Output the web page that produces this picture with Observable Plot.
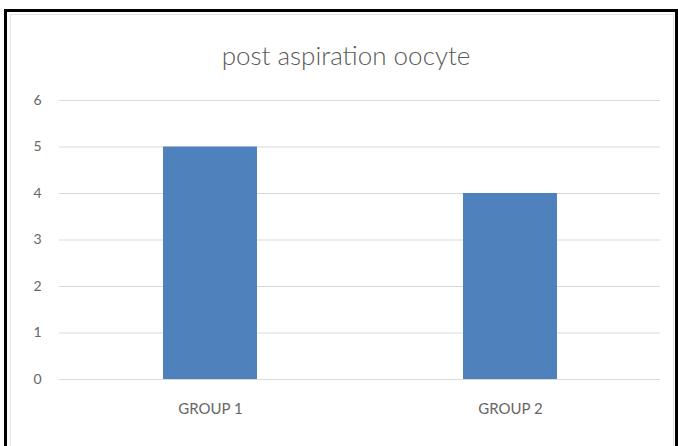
<!DOCTYPE html>
<html>
<head>
<meta charset="utf-8">
<script src="https://cdn.jsdelivr.net/npm/d3@7"></script>
<script src="https://cdn.jsdelivr.net/npm/@observablehq/plot@0.6"></script>
<style>
  html, body { margin: 0; padding: 0; background: #fff; }
  #wrap { position: relative; width: 678px; height: 446px; overflow: hidden; background: #fff; }
  #frame { position: absolute; left: 4px; top: 9px; width: 668px; height: 450px;
           border: 3px solid #000; border-bottom: none; }
  #inner { position: absolute; left: 10px; top: 14px; width: 662px; height: 440px;
           border: 1px solid #e3e3e3; border-bottom: none; }
  #title { position: absolute; left: 0; width: 692px; top: 39px; text-align: center;
           font-family: Lato, "Open Sans", sans-serif; font-weight: 300; font-size: 26px; color: #595959; }
  #chart { position: absolute; left: 0; top: 0; }
</style>
</head>
<body>
<div id="wrap">
  <div id="frame"></div>
  <div id="inner"></div>
  <div id="chart"></div>
  <div id="title">post aspiration oocyte</div>
</div>
<script>
const groups = ["GROUP 1", "GROUP 2"];
const values = [5, 4];
const yTicks = [0, 1, 2, 3, 4, 5, 6];
const titleText = "post aspiration oocyte";

const data = groups.map((g, i) => ({group: g, value: values[i]}));

const chart = Plot.plot({
  width: 678,
  height: 446,
  marginLeft: 59,
  marginRight: 18,
  marginTop: 100,
  marginBottom: 67,
  style: {background: "transparent", fontFamily: "Lato, 'Open Sans', sans-serif", color: "#595959"},
  x: {domain: groups, paddingInner: 0.687, paddingOuter: 0.3435},
  y: {domain: [0, 6]},
  marks: [
    Plot.gridY(yTicks, {stroke: "#d9d9d9", strokeOpacity: 1, strokeWidth: 1}),
    Plot.barY(data, {x: "group", y: "value", fill: "#4f81bd"}),
    Plot.axisY(yTicks, {tickSize: 0, tickPadding: 18, fontSize: 14, fill: "#666", label: null}),
    Plot.axisX({tickSize: 0, tickPadding: 24, fontSize: 15, fill: "#666", label: null})
  ]
});
document.getElementById("chart").appendChild(chart);
document.getElementById("title").textContent = titleText;
</script>
</body>
</html>
